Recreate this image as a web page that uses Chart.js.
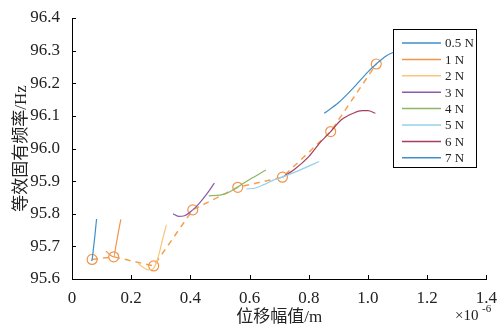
<!DOCTYPE html>
<html>
<head>
<meta charset="utf-8">
<script src="https://cdn.jsdelivr.net/npm/chart.js@4/dist/chart.umd.min.js"></script>
<style>
  body { margin: 0; background: #fff; }
</style>
</head>
<body>
<canvas id="freqChart" width="498" height="329"></canvas>
<script>
// displacement amplitude (x1e-6 m) and equivalent natural frequency (Hz)
const labels = ['0.5 N', '1 N', '2 N', '3 N', '4 N', '5 N', '6 N', '7 N'];
const colors = ['#3f8fcc', '#f0954e', '#f7c87c', '#8c5aa6', '#8db765', '#94d0ea', '#a63f5e', '#3f8fcc'];

const x05 = [0.066, 0.068, 0.072, 0.077, 0.083];
const y05 = [95.655, 95.66, 95.69, 95.73, 95.784];
const x1 = [0.115, 0.13, 0.141, 0.149, 0.157, 0.165];
const y1 = [95.685, 95.673, 95.668, 95.705, 95.745, 95.783];
const x2 = [0.223, 0.24, 0.257, 0.272, 0.285, 0.295, 0.305, 0.319];
const y2 = [95.648, 95.636, 95.628, 95.63, 95.65, 95.68, 95.718, 95.766];
const x3 = [0.341, 0.36, 0.38, 0.408, 0.43, 0.455, 0.481];
const y3 = [95.8, 95.792, 95.794, 95.812, 95.832, 95.86, 95.894];
const x4 = [0.462, 0.5, 0.53, 0.56, 0.6, 0.655];
const y4 = [95.855, 95.857, 95.866, 95.882, 95.905, 95.934];
const x5 = [0.59, 0.62, 0.65, 0.68, 0.711, 0.76, 0.8, 0.835];
const y5 = [95.876, 95.879, 95.89, 95.903, 95.913, 95.93, 95.946, 95.96];
const x6 = [0.711, 0.75, 0.8, 0.84, 0.874, 0.91, 0.95, 0.98, 1.0, 1.025];
const y6 = [95.912, 95.935, 95.975, 96.02, 96.052, 96.088, 96.108, 96.116, 96.116, 96.108];
const x7 = [0.852, 0.9, 0.95, 1.0, 1.028, 1.06, 1.1];
const y7 = [96.108, 96.14, 96.185, 96.235, 96.259, 96.283, 96.3];

// resonance points joined by the dashed line
const peakX = [0.068, 0.141, 0.276, 0.408, 0.56, 0.711, 0.874, 1.028];
const peakY = [95.66, 95.668, 95.64, 95.812, 95.881, 95.912, 96.052, 96.259];

const xTicks = [0, 0.2, 0.4, 0.6, 0.8, 1.0, 1.2, 1.4];
const yTicks = [95.6, 95.7, 95.8, 95.9, 96.0, 96.1, 96.2, 96.3, 96.4];

const seriesX = [x05, x1, x2, x3, x4, x5, x6, x7];
const seriesY = [y05, y1, y2, y3, y4, y5, y6, y7];

const serif = '"Liberation Serif", "Noto Sans CJK SC", serif';

const pts = (xs, ys) => xs.map((v, i) => ({ x: v, y: ys[i] }));

const datasets = labels.map((name, i) => ({
  label: name,
  data: pts(seriesX[i], seriesY[i]),
  borderColor: colors[i],
  borderWidth: 1.2,
  pointRadius: 0,
  fill: false,
  cubicInterpolationMode: 'monotone',
  tension: 0.4
}));

datasets.push({
  label: 'peaks',
  data: pts(peakX, peakY),
  borderColor: '#f5a050',
  borderWidth: 1.5,
  borderDash: [6, 5],
  tension: 0,
  pointRadius: 5,
  pointBorderWidth: 1.2,
  pointBorderColor: '#f0954e',
  pointBackgroundColor: 'rgba(0,0,0,0)',
  fill: false
});

const overlay = {
  id: 'overlay',
  afterDraw(chart) {
    const { ctx, chartArea: a, scales: { x, y } } = chart;
    ctx.save();
    ctx.strokeStyle = '#000';
    ctx.lineWidth = 1;
    ctx.beginPath();
    xTicks.forEach(v => {
      const px = Math.round(x.getPixelForValue(v)) + 0.5;
      ctx.moveTo(px, a.bottom);
      ctx.lineTo(px, a.bottom - 4);
    });
    yTicks.forEach(v => {
      const py = Math.round(y.getPixelForValue(v)) + 0.5;
      ctx.moveTo(a.left, py);
      ctx.lineTo(a.left + 4, py);
    });
    ctx.stroke();

    // exponent label
    ctx.fillStyle = '#222';
    ctx.textBaseline = 'alphabetic';
    ctx.textAlign = 'left';
    ctx.font = '15px ' + serif;
    ctx.fillText('×10', 455, 320);
    ctx.font = '11px ' + serif;
    ctx.fillText('-6', 482, 312);

    // legend box
    const lx = 393.5, ly = 29.5, lw = 83, lh = 138;
    ctx.fillStyle = '#fff';
    ctx.fillRect(lx, ly, lw, lh);
    ctx.strokeStyle = '#000';
    ctx.strokeRect(lx, ly, lw, lh);
    ctx.font = '13px ' + serif;
    ctx.textBaseline = 'middle';
    labels.forEach((name, i) => {
      const ry = 43 + i * 16.4;
      ctx.strokeStyle = colors[i];
      ctx.lineWidth = 1.5;
      ctx.beginPath();
      ctx.moveTo(402, ry);
      ctx.lineTo(441, ry);
      ctx.stroke();
      ctx.fillStyle = '#222';
      ctx.fillText(name, 445, ry + 1);
    });
    ctx.restore();
  }
};

new Chart(document.getElementById('freqChart'), {
  type: 'line',
  data: { datasets },
  plugins: [overlay],
  options: {
    responsive: false,
    animation: false,
    devicePixelRatio: 1,
    layout: { padding: { left: 0, right: 10, top: 18, bottom: 0 } },
    plugins: { legend: { display: false }, tooltip: { enabled: false } },
    scales: {
      x: {
        type: 'linear',
        min: 0,
        max: 1.4,
        afterFit: s => { s.height = 50; },
        afterBuildTicks: s => { s.ticks = xTicks.map(v => ({ value: v })); },
        grid: { display: false },
        border: { display: true, color: '#000', width: 1 },
        ticks: {
          padding: 1,
          color: '#222',
          font: { family: serif, size: 17 },
          maxRotation: 0,
          callback: v => (v === 0 ? '0' : v.toFixed(1))
        },
        title: {
          display: true,
          text: '位移幅值/m',
          color: '#222',
          font: { family: serif, size: 17 },
          padding: { top: 0, bottom: 1 }
        }
      },
      y: {
        type: 'linear',
        min: 95.6,
        max: 96.4,
        afterFit: s => { s.width = 72; },
        afterBuildTicks: s => { s.ticks = yTicks.map(v => ({ value: v })); },
        grid: { display: false },
        border: { display: true, color: '#000', width: 1 },
        ticks: {
          padding: 4,
          color: '#222',
          font: { family: serif, size: 17 },
          callback: v => v.toFixed(1)
        },
        title: {
          display: true,
          text: '等效固有频率/Hz',
          color: '#222',
          font: { family: serif, size: 17 },
          padding: { top: 11, bottom: 0 }
        }
      }
    }
  }
});
</script>
</body>
</html>
